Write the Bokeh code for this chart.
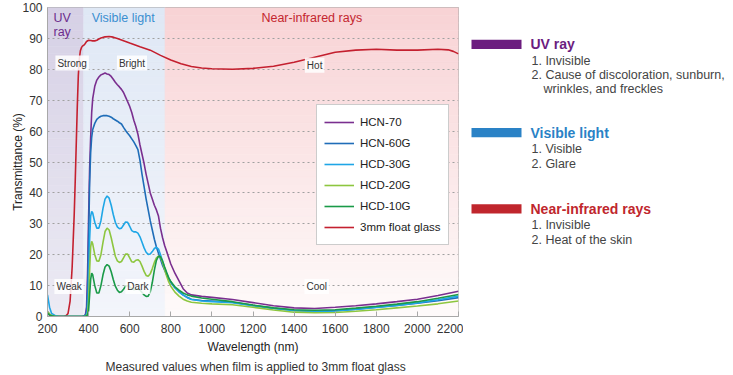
from bokeh.plotting import figure
from bokeh.models import Range1d, FixedTicker, Label, Title
from bokeh.layouts import row
from bokeh.embed import file_html
from bokeh.resources import INLINE

# ---------------- data ----------------
wavelength = [200, 210, 220, 240, 260, 300, 340, 370, 380, 385, 390, 395, 400, 405, 410, 415, 420,
              430, 440, 450, 460, 470, 480, 490, 500, 510, 520, 530, 540, 550, 560, 570, 580, 590,
              600, 610, 620, 630, 640, 650, 660, 670, 680, 690, 700, 710, 720, 730, 740, 750, 760,
              770, 780, 790, 800, 820, 840, 860, 880, 900, 950, 1000, 1100, 1200, 1300, 1400, 1500,
              1600, 1700, 1800, 1900, 2000, 2100, 2200]

hcn70 = [1.0, 0.5, 0.2, 0, 0, 0, 0, 0, 0.2, 0.8, 3, 14, 32, 48, 58, 66, 70.5,
         74.5, 76.5, 77.5, 78.2, 78.5, 78.8, 78.5, 78.3, 77.7, 76.8, 75.8, 75.0, 74.3, 73.5, 72.5, 71.0, 69.5,
         68.0, 66.0, 63.5, 61.5, 59.0, 55.5, 52.5, 49.5, 46.0, 43.0, 40.0, 38.0, 36.0, 34.5, 32.5, 28.5, 25.5,
         23.0, 21.0, 19.0, 17.0, 14.0, 11.5, 9.0, 7.6, 7.0, 6.5, 6.2, 5.5, 4.5, 3.5, 2.8, 2.6,
         3.0, 3.5, 4.1, 4.8, 5.6, 6.8, 8.2]

hcn60g = [1.5, 0.8, 0.3, 0, 0, 0, 0, 0, 0.2, 0.5, 1.5, 8, 25, 43, 53, 58, 60.5,
          62.5, 63.8, 64.4, 64.8, 65.0, 65.0, 65.0, 64.8, 64.5, 64.0, 63.6, 63.2, 62.7, 62.3, 61.2, 60.2, 59.3,
          58.5, 57.5, 56.5, 55.3, 54.0, 50.5, 46.0, 42.0, 38.0, 34.5, 31.0, 28.0, 25.0, 22.5, 20.5, 18.5, 16.5,
          15.0, 13.5, 12.2, 11.0, 9.3, 8.0, 7.0, 6.2, 5.6, 5.2, 5.0, 4.6, 3.6, 2.7, 2.0, 1.7,
          1.9, 2.4, 3.0, 3.6, 4.3, 5.1, 6.1]

hcd30g = [7.0, 3.0, 1.0, 0.2, 0, 0, 0, 0, 0.1, 0.2, 0.5, 2, 10, 25, 32.5, 34.0, 33.5,
          30.5, 28.6, 28.6, 31.0, 35.0, 38.0, 39.0, 38.3, 36.0, 33.0, 30.5, 29.0, 28.4, 28.6, 29.6, 30.6, 30.5,
          29.2, 27.8, 27.4, 27.4, 27.0, 25.8, 24.0, 22.2, 20.8, 20.1, 20.2, 21.0, 22.0, 22.4, 21.8, 20.0, 17.8,
          15.8, 14.0, 12.4, 11.2, 9.3, 8.0, 6.9, 6.1, 5.5, 5.0, 4.8, 4.5, 3.5, 2.6, 1.9, 1.6,
          1.8, 2.3, 2.9, 3.6, 4.4, 5.4, 6.6]

hcd20g = [1.5, 0.8, 0.3, 0, 0, 0, 0, 0, 0, 0.1, 0.3, 1, 5, 15, 22.5, 24.3, 23.5,
          20.0, 18.0, 17.9, 20.0, 24.0, 27.5, 28.6, 28.0, 25.5, 22.5, 19.5, 18.0, 17.5, 17.8, 19.0, 20.2, 20.2,
          19.0, 17.7, 17.6, 18.2, 18.4, 17.8, 16.3, 14.6, 13.3, 13.0, 13.8, 15.5, 17.5, 19.0, 19.5, 19.2, 17.5,
          15.2, 13.0, 11.2, 9.8, 7.9, 6.6, 5.6, 5.0, 4.6, 4.3, 4.1, 3.8, 3.0, 2.1, 1.4, 1.2,
          1.3, 1.7, 2.2, 2.8, 3.4, 4.1, 5.0]

hcd10g = [1.0, 0.5, 0.2, 0, 0, 0, 0, 0, 0, 0.1, 0.2, 0.5, 2, 7, 12.0, 14.0, 13.5,
          10.0, 7.6, 7.6, 10.0, 13.5, 16.0, 16.8, 16.3, 14.5, 12.0, 9.8, 8.5, 7.8, 8.0, 8.8, 9.8, 10.0,
          9.6, 9.0, 8.7, 8.8, 8.9, 8.6, 7.8, 7.0, 6.5, 6.6, 8.0, 11.0, 15.0, 18.2, 19.5, 19.3, 18.0,
          16.0, 14.2, 12.5, 11.3, 9.6, 8.5, 7.6, 7.0, 6.6, 6.0, 5.6, 4.8, 3.7, 2.8, 2.2, 2.0,
          2.2, 2.7, 3.3, 4.0, 4.8, 5.9, 7.1]

float_wl = [200, 210, 220, 240, 260, 280, 290, 300, 310, 320, 330, 335, 340, 345, 350, 355, 360, 365,
            370, 380, 390, 400, 410, 420, 430, 440, 450, 460, 480, 500, 520, 540, 560, 580, 600, 650,
            700, 750, 800, 850, 900, 950, 1000, 1100, 1200, 1300, 1400, 1500, 1600, 1700, 1800, 1900,
            2000, 2100, 2150, 2175, 2200]
float_glass = [1.5, 0.5, 0.2, 0, 0, 0, 0.2, 1.0, 5.0, 16.0, 33.0, 44.0, 56.0, 68.0, 78.0, 83.5, 86.0, 87.0,
               87.5, 88.0, 89.0, 89.4, 89.3, 89.2, 89.2, 89.4, 89.8, 90.1, 90.5, 90.6, 90.4, 90.0, 89.5, 89.0, 88.5, 87.3,
               86.2, 84.5, 83.0, 81.8, 80.9, 80.4, 80.2, 80.0, 80.3, 81.0, 82.3, 83.9, 85.5, 86.2, 86.5, 86.2,
               86.2, 86.5, 86.3, 85.8, 85.0]

series_names = ["HCN-70", "HCN-60G", "HCD-30G", "HCD-20G", "HCD-10G", "3mm float glass"]
series_colors = ["#7a2f8f", "#1f6db8", "#1ea6e6", "#8dc63f", "#1a9a48", "#c4202f"]

region_edges = [200, 376, 772, 2200]
region_titles = ["UV", "Visible light", "Near-infrared rays"]
region_title_colors = ["#6c2c8c", "#3a8fd0", "#c4262e"]
region_top_colors = ["#d6d0e5", "#dfe8f5", "#f8d3d5"]
region_bottom_colors = ["#ecebf4", "#f3f5fb", "#fefafa"]

zone_words = ["Strong", "Bright", "Hot", "Weak", "Dark", "Cool"]
zone_x = [320, 611, 1500, 305, 640, 1510]
zone_y = [82, 82, 81.3, 9.7, 9.7, 9.7]

x_ticks = list(range(200, 2201, 200))
y_ticks = list(range(0, 101, 10))

side_titles = ["UV ray", "Visible light", "Near-infrared rays"]
side_colors = ["#6c1d7f", "#2a82c6", "#c0262d"]
side_items = [["1. Invisible", "2. Cause of discoloration, sunburn,", "wrinkles, and freckles"],
              ["1. Visible", "2. Glare"],
              ["1. Invisible", "2. Heat of the skin"]]

FONT = "Liberation Sans"


def hex_to_rgb(h):
    h = h.lstrip("#")
    return tuple(int(h[i:i + 2], 16) for i in (0, 2, 4))


def mix(c1, c2, t):
    a, b = hex_to_rgb(c1), hex_to_rgb(c2)
    return "#%02x%02x%02x" % tuple(int(round(a[i] + (b[i] - a[i]) * t)) for i in range(3))


# ---------------- main chart ----------------
W_MAIN, H = 463, 375
TOP, BOTTOM = 7, 58
p = figure(width=W_MAIN, height=H, x_range=Range1d(200, 2200), y_range=Range1d(0, 100),
           output_backend="svg", toolbar_location=None,
           min_border_left=47, min_border_right=5, min_border_top=TOP, min_border_bottom=BOTTOM)
p.background_fill_color = "white"
p.border_fill_color = "white"
p.outline_line_color = "#a8a8a8"

# gradient background bands
NB = 40
lefts, rights, bottoms, tops, cols = [], [], [], [], []
for i in range(3):
    for k in range(NB):
        lefts.append(region_edges[i])
        rights.append(region_edges[i + 1])
        bottoms.append(100.0 * k / NB)
        tops.append(100.0 * (k + 1) / NB)
        cols.append(mix(region_bottom_colors[i], region_top_colors[i], (k + 0.5) / NB))
p.quad(left=lefts, right=rights, bottom=bottoms, top=tops, fill_color=cols,
       line_color=cols, line_width=0.6, level="image")

# curves
film_series = [hcn70, hcn60g, hcd30g, hcd20g, hcd10g]
p.line(float_wl, float_glass, line_color=series_colors[5], line_width=1.6, legend_label=series_names[5])
for ys, name, col in zip(film_series, series_names[:5], series_colors[:5]):
    p.line(wavelength, ys, line_color=col, line_width=1.6, legend_label=name)

items = p.legend[0].items
p.legend[0].items = items[1:] + items[:1]
lg = p.legend[0]
lg.location = (269, 71)
lg.background_fill_color = "white"
lg.background_fill_alpha = 1.0
lg.border_line_color = "#9a9a9a"
lg.label_text_font = FONT
lg.label_text_font_size = "11.5px"
lg.label_text_color = "#222"
lg.glyph_width = 30
lg.glyph_height = 20
lg.label_height = 20
lg.label_standoff = 6
lg.spacing = 1
lg.padding = 7
lg.margin = 0

# axes
p.xaxis.ticker = FixedTicker(ticks=x_ticks)
p.yaxis.ticker = FixedTicker(ticks=y_ticks)
for ax in (p.xaxis, p.yaxis):
    ax.axis_line_color = "#a8a8a8"
    ax.major_tick_line_color = "#a8a8a8"
    ax.minor_tick_line_color = None
    ax.major_label_text_font = FONT
    ax.major_label_text_font_size = "12px"
    ax.major_label_text_color = "#333"
    ax.axis_label_text_font = FONT
    ax.axis_label_text_font_size = "12px"
    ax.axis_label_text_font_style = "normal"
    ax.axis_label_text_color = "#222"
p.xaxis.major_tick_in = 5
p.xaxis.major_tick_out = 0
p.xaxis.major_label_standoff = 7
p.xaxis.axis_label = "Wavelength (nm)"
p.xaxis.axis_label_standoff = 4
p.yaxis.major_tick_in = 0
p.yaxis.major_tick_out = 0
p.yaxis.major_label_standoff = 5
p.yaxis.axis_label = "Transmittance (%)"
p.yaxis.axis_label_standoff = -6

p.xgrid.grid_line_color = None
p.ygrid.grid_line_color = "#a0a0a0"
p.ygrid.grid_line_dash = "2 3"
p.ygrid.grid_line_width = 1

# region titles
p.add_layout(Label(x=region_edges[0], y=100, x_offset=6, y_offset=-3, text=region_titles[0],
                   text_baseline="top", text_align="left", text_font=FONT, text_font_size="12.5px",
                   text_color=region_title_colors[0]))
p.add_layout(Label(x=region_edges[0], y=100, x_offset=6, y_offset=-17, text="ray",
                   text_baseline="top", text_align="left", text_font=FONT, text_font_size="12.5px",
                   text_color=region_title_colors[0]))
p.add_layout(Label(x=region_edges[1], y=100, x_offset=8, y_offset=-3, text=region_titles[1],
                   text_baseline="top", text_align="left", text_font=FONT, text_font_size="12.5px",
                   text_color=region_title_colors[1]))
p.add_layout(Label(x=(region_edges[2] + region_edges[3]) / 2, y=100, y_offset=-3, text=region_titles[2],
                   text_baseline="top", text_align="center", text_font=FONT, text_font_size="12.5px",
                   text_color=region_title_colors[2]))

# zone words
for w, xx, yy in zip(zone_words, zone_x, zone_y):
    p.add_layout(Label(x=xx, y=yy, text=w, text_align="center", text_baseline="middle",
                       text_font=FONT, text_font_size="10px", text_color="#333",
                       background_fill_color="white", background_fill_alpha=0.85, padding=2))

# footnote
p.add_layout(Title(text="Measured values when film is applied to 3mm float glass", align="left",
                   offset=58, text_font=FONT, text_font_size="12px", text_font_style="normal",
                   text_color="#333", standoff=3), "below")

# ---------------- side panel (coordinates = page pixels) ----------------
W_SIDE = 270
q = figure(width=W_SIDE, height=H, x_range=Range1d(W_MAIN, W_MAIN + W_SIDE),
           y_range=Range1d(H - BOTTOM, TOP),
           output_backend="svg", toolbar_location=None, x_axis_type=None, y_axis_type=None,
           min_border_left=0, min_border_right=0, min_border_top=TOP, min_border_bottom=BOTTOM)
q.outline_line_color = None
q.grid.visible = False
q.background_fill_color = "white"
q.border_fill_color = "white"

bar_left, bar_right, bar_half = 471, 521, 4.7
title_x = 530
title_y = [44, 132.5, 209]
item_y = [[60.7, 75, 89], [149.3, 164], [225.7, 240]]
item_x = [[531, 531, 543], [531, 531], [531, 531]]
q.quad(left=[bar_left] * 3, right=[bar_right] * 3, top=[t - bar_half for t in title_y],
       bottom=[t + bar_half for t in title_y], fill_color=side_colors, line_color=None)
for t, ty, col, its, iys, ixs in zip(side_titles, title_y, side_colors, side_items, item_y, item_x):
    q.add_layout(Label(x=title_x, y=ty, text=t, text_baseline="middle", text_align="left",
                       text_font=FONT, text_font_size="14px", text_font_style="bold", text_color=col))
    for it, iy, ix in zip(its, iys, ixs):
        q.add_layout(Label(x=ix, y=iy, text=it, text_baseline="middle", text_align="left",
                           text_font=FONT, text_font_size="12.5px", text_color="#444"))

layout = row(p, q, spacing=0)
open("out.html", "w").write(file_html(layout, INLINE))
